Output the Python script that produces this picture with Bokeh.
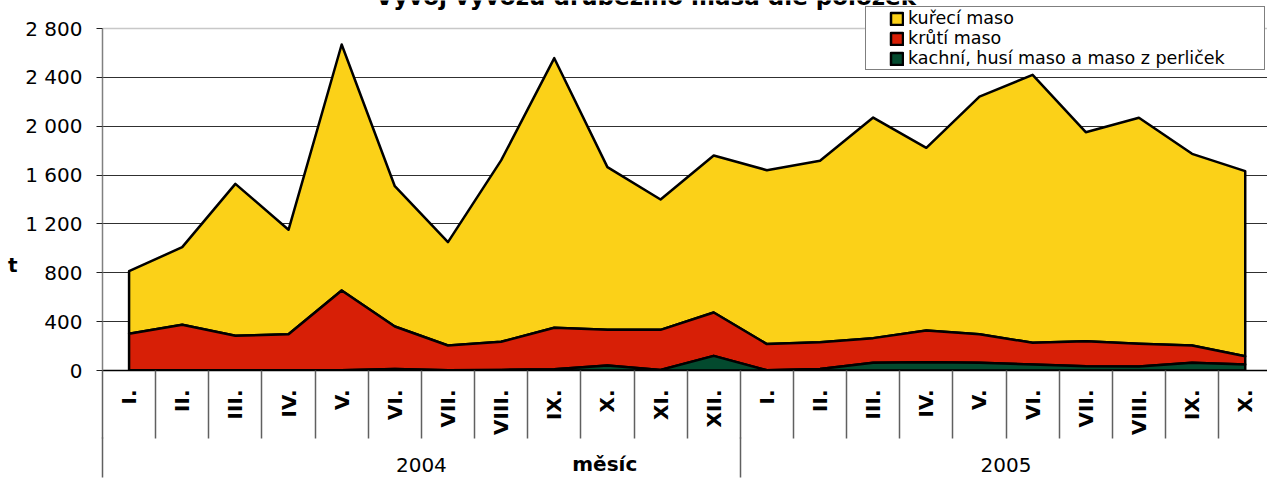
import math
import numpy as np
from bokeh.plotting import figure
from bokeh.models import Range1d, FixedTicker, LinearAxis, Legend, LegendItem, Label, Grid
from bokeh.embed import file_html
from bokeh.resources import INLINE

# ---- data (t) ----
months = ["I.", "II.", "III.", "IV.", "V.", "VI.", "VII.", "VIII.", "IX.", "X.", "XI.", "XII.",
          "I.", "II.", "III.", "IV.", "V.", "VI.", "VII.", "VIII.", "IX.", "X."]
years = ["2004", "2005"]
year_sizes = [12, 10]
kachni = [2, 2, 2, 2, 3, 12, 3, 5, 10, 41, 5, 120, 2, 12, 63, 68, 63, 49, 35, 33, 63, 49]
kruti = [298, 372, 282, 295, 652, 348, 202, 230, 340, 292, 328, 355, 214, 220, 202, 259, 234, 178, 205, 185, 142, 68]
kureci = [513, 636, 1244, 855, 2014, 1149, 846, 1485, 2207, 1332, 1067, 1285, 1424, 1485, 1806, 1496, 1946, 2194, 1711, 1851, 1569, 1515]
y_ticks = [0, 400, 800, 1200, 1600, 2000, 2400, 2800]
y_tick_labels = ["0", "400", "800", "1 200", "1 600", "2 000", "2 400", "2 800"]
series_names = ["kuřecí maso", "krůtí maso", "kachní, husí maso a maso z perliček"]
series_colors = ["#FBD118", "#D71F06", "#034A2E"]
title_text = "Vývoj vývozu drůbežího masa dle položek"
x_title = "měsíc"
y_title = "t"

FONT = "DejaVu Sans"
n = len(months)
xs = np.arange(n)
g_top = np.array(kachni, dtype=float)
r_top = g_top + np.array(kruti, dtype=float)
y_top = r_top + np.array(kureci, dtype=float)
zero = np.zeros(n)

# frame: x 102..1267 px, y 0..370 px  (2800 t sits at 28 px)
Y_MAX = 2800 * 370 / 342
X_END = -0.5 + (1267 - 102) / 53.15

p = figure(width=1267, height=478,
           x_range=Range1d(-0.5, X_END), y_range=Range1d(0, Y_MAX),
           output_backend="svg", toolbar_location=None,
           min_border_left=102, min_border_right=0, min_border_top=0, min_border_bottom=108)
p.background_fill_color = "white"
p.border_fill_color = "white"
p.outline_line_color = None


def band(lo, hi):
    px = list(xs) + list(xs[::-1])
    py = list(hi) + list(lo[::-1])
    return px, py


# grid
p.xgrid.visible = False
p.ygrid.ticker = FixedTicker(ticks=y_ticks[1:-1])
p.ygrid.grid_line_color = "#303030"
p.ygrid.grid_line_width = 1
p.add_layout(Grid(dimension=1, ticker=FixedTicker(ticks=[y_ticks[-1]]),
                  grid_line_color="#c8c8c8", grid_line_width=1.5))

bx, by = band(r_top, y_top)
r_y = p.patch(bx, by, fill_color=series_colors[0], line_color="black", line_width=2.5, line_join="round")
bx, by = band(g_top, r_top)
r_r = p.patch(bx, by, fill_color=series_colors[1], line_color="black", line_width=2.5, line_join="round")
bx, by = band(zero, g_top)
r_g = p.patch(bx, by, fill_color=series_colors[2], line_color="black", line_width=2.5, line_join="round")

# y axis
ya = p.yaxis[0]
ya.ticker = FixedTicker(ticks=y_ticks)
ya.bounds = (y_ticks[0], y_ticks[-1])
ya.major_label_overrides = {v: s for v, s in zip(y_ticks, y_tick_labels)}
ya.major_label_text_font = FONT
ya.major_label_text_font_size = "20px"
ya.major_label_text_color = "black"
ya.major_tick_out = 6
ya.major_tick_in = 0
ya.minor_tick_out = 0
ya.minor_tick_in = 0
ya.major_tick_line_color = "#202020"
ya.axis_line_color = "#808080"
ya.axis_line_width = 1.5
ya.major_label_standoff = 14

# y axis title "t" (as an outer axis label at its place)
T_POS = 860
ya2 = LinearAxis(ticker=FixedTicker(ticks=[T_POS]), major_label_overrides={T_POS: y_title})
ya2.axis_line_color = None
ya2.major_tick_out = 0
ya2.major_tick_in = 0
ya2.minor_tick_out = 0
ya2.minor_tick_in = 0
ya2.major_label_standoff = 5
ya2.major_label_text_font = FONT
ya2.major_label_text_font_style = "bold"
ya2.major_label_text_font_size = "20px"
ya2.major_label_text_color = "black"
p.add_layout(ya2, "left")

# x axis (months)
xa = p.xaxis[0]
bounds = [k - 0.5 for k in range(n + 1)]
xa.ticker = FixedTicker(ticks=list(range(n)), minor_ticks=bounds)
xa.major_label_overrides = {i: m for i, m in enumerate(months)}
xa.major_label_orientation = math.pi / 2
xa.major_label_text_font = FONT
xa.major_label_text_font_style = "bold"
xa.major_label_text_font_size = "20px"
xa.major_label_text_color = "black"
xa.major_label_standoff = -49
xa.major_tick_out = 0
xa.major_tick_in = 0
xa.minor_tick_out = 68
xa.minor_tick_in = 0
xa.minor_tick_line_color = "#606060"
xa.minor_tick_line_width = 1.5
xa.axis_line_color = "black"
xa.axis_line_width = 1.5

# x axis (years + group separators)
gb = [-0.5]
centers = []
for s in year_sizes:
    centers.append(gb[-1] + s / 2)
    gb.append(gb[-1] + s)
xa2 = LinearAxis(ticker=FixedTicker(ticks=centers, minor_ticks=gb),
                 major_label_overrides={c: yr for c, yr in zip(centers, years)})
xa2.axis_line_color = None
xa2.major_tick_out = 0
xa2.major_tick_in = 0
xa2.minor_tick_out = 40
xa2.minor_tick_in = 0
xa2.minor_tick_line_color = "#606060"
xa2.minor_tick_line_width = 1.5
xa2.major_label_standoff = -20
xa2.major_label_text_font = FONT
xa2.major_label_text_font_size = "20px"
xa2.major_label_text_color = "black"
p.add_layout(xa2, "below")

# x axis title "měsíc"
M_POS = 8.95
xa3 = LinearAxis(ticker=FixedTicker(ticks=[M_POS]), major_label_overrides={M_POS: x_title})
xa3.axis_line_color = None
xa3.major_tick_out = 0
xa3.major_tick_in = 0
xa3.minor_tick_out = 0
xa3.minor_tick_in = 0
xa3.major_label_standoff = -23
xa3.major_label_text_font = FONT
xa3.major_label_text_font_style = "bold"
xa3.major_label_text_font_size = "20px"
xa3.major_label_text_color = "black"
p.add_layout(xa3, "below")

# empty spacer axis pulling the bottom panel back to 108 px
xa4 = LinearAxis(ticker=FixedTicker(ticks=[]))
xa4.axis_line_color = None
xa4.major_tick_out = 0
xa4.major_tick_in = 0
xa4.minor_tick_out = 0
xa4.minor_tick_in = 0
xa4.major_label_standoff = -5
p.add_layout(xa4, "below")

# title (cropped at the top of the picture, as in the reference)
p.add_layout(Label(x=9.72, y=2980, y_offset=10, text=title_text, text_align="center", text_baseline="alphabetic",
                   text_font=FONT, text_font_size="23px", text_font_style="bold", text_color="black"))

legend = Legend(items=[LegendItem(label=series_names[0], renderers=[r_y]),
                       LegendItem(label=series_names[1], renderers=[r_r]),
                       LegendItem(label=series_names[2], renderers=[r_g])],
                location=(763, 300), orientation="vertical",
                title=" ", title_location="left", title_text_font_size="14px", title_standoff=6,
                border_line_color="black", border_line_width=1,
                background_fill_color="white", background_fill_alpha=1,
                label_text_font=FONT, label_text_font_size="17.5px", label_text_color="black",
                glyph_width=15, glyph_height=15, label_height=19, label_width=355, spacing=0,
                padding=1, label_standoff=4, margin=0)
p.add_layout(legend)

open("out.html", "w").write(file_html(p, INLINE))
